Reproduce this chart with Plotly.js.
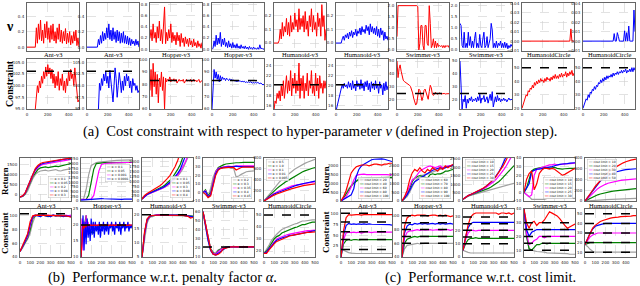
<!DOCTYPE html>
<html><head><meta charset="utf-8">
<script src="https://cdn.plot.ly/plotly-3.0.1.min.js"></script>
<style>html,body{margin:0;padding:0;background:#fff}#c{width:640px;height:286px}</style>
</head><body><div id="c"></div>
<script>
// ---------- x grids ----------
const X10 = [0,10,20,30,40,50,60,70,80,90,100,110,120,130,140,150,160,170,180,190,200,210,220,230,240,250,260,270,280,290,300,310,320,330,340,350,360,370,380,390,400,410,420,430,440,450,460,470,480,490,500];
const X25 = [0,25,50,75,100,125,150,175,200,225,250,275,300,325,350,375,400,425,450,475,500];

// ---------- (a) nu ----------
const nuAntRed = [0,0,0,0,0,0,0,0,0,0.25, 0.05,0.3,0.1,0.35,0.08,0.22,0.05,0.3,0.12,0.33, 0.1,0.25,0.06,0.28,0.1,0.3,0.08,0.2,0.05,0.25, 0.1,0.3,0.07,0.22,0.05,0.2,0.08,0.24,0.04,0.18, 0.06,0.2,0.03,0.15,0.05,0.2,0.08,0.22,0.02,0.12, 0];
const nuAntBlue = [0,0,0,0,0,0,0,0,0,0, 0,0.1,0.03,0.15,0.05,0.2,0.08,0.18,0.1,0.25, 0.12,0.3,0.1,0.22,0.08,0.25,0.1,0.2,0.06,0.22, 0.08,0.2,0.05,0.18,0.06,0.2,0.05,0.15,0.04,0.14, 0.03,0.12,0.02,0.1,0.04,0.08,0.02,0.1,0.03,0.08, 0];
const nuHopRed = [0.2,0.35,0.15,0.45,0.2,0.3,0.12,0.4,0.2,0.5, 0.15,0.35,0.1,0.55,0.75,0.1,0.3,0.15,0.35,0.2, 0.45,0.12,0.3,0.15,0.25,0.08,0.3,0.15,0.25,0.05, 0.28,0.12,0.2,0.05,0.22,0.1,0.18,0.05,0.2,0.08, 0.15,0.04,0.18,0.06,0.12,0.03,0.15,0.05,0.1,0.02, 0.12];
const nuHopBlue = [0,0.02,0.15,0.05,0.25,0.08,0.2,0.1,0.3,0.05, 0.18,0.08,0.2,0.05,0.12,0.03,0.15,0.04,0.1,0.02, 0.12,0.03,0.08,0.02,0.1,0.02,0.06,0.01,0.08,0.02, 0.05,0.01,0.06,0.01,0.04,0,0.05,0.01,0.03,0, 0.04,0.01,0.02,0,0.03,0,0.08,0.01,0.02,0, 0.01];
const nuHumRed = [0,0,0,0,0,0.02,0.1,0.03,0.15,0.05, 0.12,0.08,0.18,0.06,0.15,0.05,0.2,0.08,0.15,0.1, 0.22,0.12,0.17,0.08,0.25,0.1,0.18,0.12,0.2,0.08, 0.23,0.1,0.16,0.05,0.2,0.12,0.25,0.08,0.2,0.1, 0.15,0.05,0.22,0.12,0.18,0.05,0.28,0.12,0.2,0.02, 0.1];
const nuHumBlue = [0,0,0,0,0,0,0.03,0.05,0.02,0.06, 0.04,0.07,0.03,0.08,0.05,0.09,0.04,0.08,0.06,0.1, 0.05,0.09,0.07,0.11,0.06,0.12,0.08,0.1,0.07,0.13, 0.09,0.12,0.06,0.14,0.08,0.12,0.07,0.11,0.06,0.12, 0.05,0.1,0.04,0.11,0.06,0.09,0.02,0.08,0.03,0.05, 0.02];
const nuSwiRed = [0.6,2,2,2,2,2,2,2,2,2, 2,2,2,2,2,2,2,2,2,2, 1.95,0,0.3,1.1,1.1,0.2,0,1.1,1.1,0.3, 0.2,2,1.2,0.1,0.2,0.5,0.1,0.4,0.1,0.3, 0.15,0.2,0.15,0.2,0.1,0.2,0.1,0.2,0.15,0.2, 0.1];
const nuSwiBlue = [1.2,1.1,0.2,0.1,0.8,0.1,0.3,0.1,0.8,0.2, 0.6,0.1,0.4,0.1,0.5,0.8,0.1,0.3,0.1,0.7, 0.2,0.1,0.5,0.8,0.1,0.2,0.6,0.1,0.3,0.5, 1.2,0.9,0.1,0.3,0.1,0.4,0.1,0.3,0.2,0.4, 0.1,0.3,0.1,0.35,0.1,0.3,0.05,0.2,0.1,0.25, 0.15];
const nuCirRed = [0,0,0,0,0,0,0,0,0,0, 0,0,0,0,0,0,0,0,0,0, 0,0,0,0,0,0,0,0,0,0, 0,0,0,0,0,0,0,0,0,0, 0,0,0,0,0,0,0,0.013,0,0, 0];
const nuCirBlue = [0,0,0,0,0,0,0,0,0,0, 0,0,0,0,0,0,0,0,0,0, 0,0,0,0,0,0,0,0,0,0, 0.008,0,0,0.009,0.005,0,0,0,0,0, 0.011,0,0.009,0,0.016,0,0,0,0,0.033, 0.01];

// ---------- (a) constraint ----------
const cAntRed = [null,null,null,null,null,null,null,null,95,98, 100,98.5,101,99.5,102,100.5,103,101.5,104,102, 104.5,102.5,103.8,101.5,103.5,100.5,102.5,99.5,102,100, 103,99,101.5,100,102.5,99,101,98.5,101.5,100, 103,101,103.5,101.5,102.5,100,103.8,101,99,96.5, 97];
const cAntBlue = [null,null,null,null,null,null,null,null,null,null, null,95,100.5,99,101.5,100,102.5,101,103,100.5, 102,99.5,103.3,101,98,96.5,100,103.8,101.5,97.5, 100,102.8,101,98.5,101,99,102,100,102.5,101, 102,99.5,101,98.5,101.5,100,100.5,99,100,98.5, 99];
const cHopRed = [75,92,70,97,78,90,72,88,65,85, 78,90,75,86,60,85,82,84,83,86, 82,84,83,84.5,82.5,84,81,83,84,82.5, 83.5,82.5,84,81,83,84,82.5,83.5,82.5,84, 82,83,84,82.5,83.5,82,83,84,81.5,82.5, 83];
const cHopBlue = [60,80,92,85,90,84,88,82,87,83, 86,84,85,83,85,84,83,84.5,83,84, 83,83.5,82.5,83,82,83,82.5,83,82,82.5, 82,82.5,81.5,82,81.5,82,81.5,82,81.5,81, 81.5,81,81.5,81,81.5,81,80.5,81,80,79.5, 80];
const cHumRed = [15,17,16.5,18.5,17.5,19,17,20,18,21, 17.5,20.5,22,18.5,21,19,23,18,21.5,19.5, 22.5,18.5,21,19,24.5,17.5,21.5,19,22,17.5, 20.5,19,22.5,18,21,19.5,23,18.5,20,18, 22.5,19,21.5,17.5,22,19.5,20.5,18.5,21,19.5, 21];
const cHumBlue = [15,16,17,18,18.5,19.5,20.3,19.5,20.5,19.8, 20.2,19.5,20.8,19.7,20.5,19.2,21,19.5,20.3,19, 21,19.8,20.5,19.3,21.2,19.5,20.5,19,20.8,19.8, 21,19.2,20.5,18.8,20.8,19.5,20.5,19.2,21,19.5, 20.3,18.5,20.8,19.5,20.2,18.2,20.5,19,20.8,19.2, 20];
const cSwiRed = [50,37,44,47,42,38,35,34,33.5,33, 32.5,32,31,30,28,25,21,17,15.5,17, 22,28,27,21,19,22,27,28,25,21, 20,26,31,29,24,23,25,25.5,24.5,24, 24.5,25,24.5,24,24.5,24.8,24.5,24,24.5,24.3, 24.5];
const cSwiBlue = [50,30,12,20,18,23,13,20,17,21, 19,22,18,20,19,21,18,22,19,24, 17,21,20,23,18,20,22,17,21,24, 19,26,14,20,22,18,23,19,21,18, 20,19,21,19,20,18,20,21,19.5,20, 20];
const cCirRed = [20,23,26,27,30,29,33,32,35,34, 37,35,39,37,40,38,41,39,42,40, 41,39,42,40,43,41,42,40,43,41, 44,42,45,42,44,42,45,43,46,43, 45,44,47,43,46,44,47,45,48,44, 46];
const cCirBlue = [20,22,25,27,26,30,28,32,31,34, 33,36,34,37,36,39,38,41,39,42, 40,43,41,44,42,44,43,45,43,46, 44,46,45,47,45,47,46,48,46,48, 47,49,46,48,47,49,47,50,47,50, 48];
const limA = [103.1, 83, 20.2, 24.5, 50];

// ---------- (b) return (gray, green, magenta, blue, red) ----------
const bRetAnt = [
 [-100,-80,20,200,500,800,1000,1120,1180,1200,1220,1180,1200,1230,1250,1200,1180,1220,1250,1280,1300],
 [-100,-70,50,300,600,900,1100,1250,1330,1370,1380,1350,1370,1400,1420,1400,1430,1470,1500,1530,1550],
 [-100,-60,70,330,650,950,1200,1350,1450,1500,1530,1550,1570,1600,1620,1640,1650,1680,1700,1720,1750],
 [-100,-60,80,350,700,1000,1250,1400,1500,1550,1580,1600,1620,1650,1680,1700,1730,1750,1770,1780,1790],
 [-100,-50,100,400,750,1050,1300,1450,1550,1600,1620,1650,1680,1700,1720,1750,1770,1780,1790,1800,1800]];
const bRetHop = [
 [100,100,600,1400,1900,2000,2050,2080,2100,2120,2130,2140,2150,2160,2170,2180,2180,2190,2200,2200,2200],
 [80,80,80,300,1000,1700,2000,2030,2040,2050,2050,2050,2060,2060,2060,2060,2070,2070,2070,2070,2070],
 [80,80,80,80,100,300,900,1600,1950,2000,2020,2030,2040,2050,2050,2050,2050,2060,2060,2060,2060],
 [50,60,80,90,100,110,120,150,130,120,110,100,100,120,110,100,90,100,100,90,100]];
const bRetHum = [
 [100,240,320,370,420,470,520,570,630,700,780,870,980,1110,1260,1430,1630,1870,2150,2450,2800],
 [100,250,340,400,450,510,570,640,720,810,920,1050,1200,1380,1600,1850,2150,2500,2900,3300,3700],
 [100,240,330,380,430,480,530,590,650,720,800,900,1020,1160,1320,1500,1720,1980,2280,2600,3000],
 [100,240,330,390,440,490,540,600,670,750,840,950,1080,1230,1400,1600,1850,2150,2500,2900,3300],
 [100,280,380,450,520,600,680,770,880,1000,1150,1300,1500,1750,2050,2400,2800,3200,3600,4000,4400]];
const bRetSwi = [
 [0,-3,-5,5,18,25,27,28,28.5,29,29,28,28,18,19,21,23,24,24.5,25,25],
 [0,3,-4,0,12,24,29,31,32,33,33.5,34,34,34.5,34.5,35,35,35,35,35,35],
 [0,2,-5,-2,12,24,28,29,29.5,30,30.5,30,30.5,31,31,31,31,31,31,31,31],
 [0,1,-5,-3,10,22,27,28.5,29,29.5,30,30,30,30.5,30,30,30,30,30,30,30],
 [0,-2,-6,-4,8,20,26,28,28.5,29,29,29,29,26,28,29,29.5,29.5,29.5,29.5,29.5]];
const bRetCir = [
 [0,60,130,190,250,300,350,400,440,480,520,560,590,620,650,680,700,720,740,760,775],
 [0,50,100,150,190,230,270,310,340,370,400,430,460,490,510,540,560,580,600,610,620],
 [0,40,80,110,140,170,190,210,230,250,260,280,290,300,310,320,330,340,345,350,355],
 [0,35,70,100,130,150,170,190,210,230,250,265,280,295,310,320,330,340,350,360,370],
 [0,30,60,90,110,130,150,170,185,200,215,230,245,260,270,280,290,300,305,310,320]];
// ---------- (b) constraint ----------
const bConAnt = [
 [48,53,60,66,75,90,100,102,101,101,100,101,100,101,100,101,100,100,101,100,100],
 [48,54,61,68,80,96,100,101,100,101,100,99,100,101,100,100,101,100,100,101,100],
 [48,55,62,70,85,98,101,101,100,102,100,101,100,101,100,100,101,100,101,100,101],
 [48,55,63,72,88,99,101,100,99,101,100,100,99,101,100,101,100,99,100,100,99],
 [48,56,64,74,92,100,101,101,100,101,101,100,101,100,101,100,101,100,100,99,98]];
const bConHop = [
 [10,18,21,20,19,20,19.5,20,19,19.5, 19.5,19.8,19.5,20,19.7,19.9,20,19.8,20,19.9, 20,19.8,20,19.9,20,19.8,20,20,19.9,20, 20,19.8,20,20,19.9,20,20,19.8,20,20, 19.9,20,20,19.8,20,20,19.9,20,20,19.8, 20],
 [10,17,20,19,22,23,21,20,19,18, 17.5,18,17.5,18,19,18.5,19,19.5,19,19.5, 20,19.5,20,19.5,20,19.5,20,20,19.5,20, 20,19.5,20,20,19.5,20,20,19.5,20,20, 19.5,20,20,19.5,20,20,19.5,20,20,19.5, 20],
 [10,22,12,21,16,23,17,21,18,20, 19.5,20,19.8,20.2,19.9,20,19.8,20.1,19.9,20, 20,19.9,20,20.1,19.9,20,20,19.9,20,20, 20,19.9,20,20,20.1,20,19.9,20,20,20, 20,19.9,20,20,20,20.1,20,19.9,20,20, 20],
 [10,15,23,12,21,14,22,16,20,15, 22,17,21,16,21,18,20,17,21,16, 20,18,21,17,20,18,21,17,20,19, 21,18,20,17,21,19,20,18,21,17, 20,19,21,18,20,19,21,18,20,19, 20],
 [10,16,20,19,20,19.5,20,19.8,20,19.9, 20,19.8,20,19.9,20,19.8,20,20,19.9,20, 20,19.8,20,20,19.9,20,20,19.8,20,20, 19.9,20,20,19.8,20,20,19.9,20,20,19.8, 20,20,19.9,20,20,19.8,20,20,19.9,20, 20]];
const bConHum = [
 [5,12,17,19,19.5,19.7,19.8,19.8,19.8,19.8,19.8,19.8,19.8,19.7,19.8,19.8,19.7,19.6,19.5,19,19.3],
 [5,13,18,19.2,19.6,19.8,19.8,19.9,19.8,19.8,19.9,19.8,19.8,19.8,19.9,19.8,19.8,19.7,19.6,19.4,19.5],
 [5,13,18,19.3,19.6,19.8,19.9,19.8,19.8,19.9,19.8,19.8,19.9,19.8,19.8,19.8,19.7,19.7,19.5,19.3,19.2],
 [5,13.5,18.2,19.4,19.7,19.8,19.8,19.9,19.8,19.8,19.8,19.9,19.8,19.8,19.8,19.7,19.8,19.6,19.5,19.2,19.3],
 [5,14,18.5,19.5,19.7,19.8,19.9,19.8,19.9,19.8,19.8,19.8,19.8,19.9,19.8,19.8,19.7,19.6,19.4,18.8,19]];
const bConSwi = [
 [60,44,28,17,13,15,18,19,20,21,21,21,22,21,21,21,21,21,21,21,21],
 [60,45,30,19,15,13,17,19,20,21,21,21,21,21,21,21,21,21,21,21,21],
 [60,45,29,18,14,13,16,18,20,20.5,21,21,21,21,21,21,21,21,21,21,21],
 [60,44,28,17,13,12,14,17,19,20,21,21,21,21,21,21,21,21,21,21,21],
 [60,45,29,18,13,12,13,15,19,20,20.5,21,21,21,21,21,21,21,21,21,21]];
const bConCir = [
 [18,21,25,29,32,34,36,38,39,40,41,42,42.5,43,44,45,45,45.5,46,46,46],
 [18,20,23,27,30,32,33,35,36,37,38,39,39.5,40,41,42,42,43,43.5,44,44],
 [18,19,22,25,28,30,31,32,33,33.5,34,34.5,35,35.5,36,36,36.5,37,37,37,37.5],
 [18,19,22,24,27,29,30,31,31.5,32,33,33,33.5,34,34.5,35,35.5,36,36,36.5,37],
 [18,18,21,24,26,28,29,30,31,32,32.5,33,33.5,34,34.5,35,35,35.5,35.5,36,36]];
const limB = [103, 20, 20, 21, 50];
const legAlphaAnt = ['α = 0.1','α = 0.05','α = 0.2','α = 0.08','α = 0.3'];
const legAlphaHop = ['α = 0.1','α = 0.05','α = 0.001','α = 0.0001'];
const legAlphaHum = ['α = 0.1','α = 0.05','α = 0.3','α = 0.08','α = 0.4'];
const legAlphaSwi = ['α = 0.2','α = 0.3','α = 0.35','α = 0.4','α = 0.45'];
const legAlphaCir = ['α = 0.5','α = 1.0','α = 0.1','α = 0.01','α = 0.005'];

// ---------- (c) return ----------
const cRetAnt = [
 [0,200,450,700,900,1050,1150,1200,1220,1250,1250,1260,1270,1260,1270,1280,1270,1280,1300,1290,1300],
 [0,150,400,650,850,1000,1150,1250,1300,1320,1330,1330,1320,1330,1340,1330,1340,1330,1340,1350,1350],
 [0,100,250,500,800,1200,1450,1500,1520,1530,1500,1510,1530,1500,1500,1510,1520,1500,1500,1490,1500],
 [0,100,200,280,350,700,1400,1800,2000,2100,2200,2300,2350,2380,2400,2420,2400,2380,2350,2300,2250],
 [0,250,600,1100,1600,1800,1950,2000,2050,2050,2050,2000,2050,2100,2100,2080,2050,2100,2100,2150,2150]];
const cRetHop = [
 [0,100,250,500,800,1100,1300,1400,1450,1500,1550,1600,1650,1700,1750,1800,1850,1900,1950,2000,2000],
 [0,150,400,700,1100,1300,1400,1450,1400,1350,1300,1500,1550,1500,1550,1550,1600,1700,1700,1750,1800],
 [0,200,500,900,1200,1300,1500,1700,1800,1900,1950,2000,1950,1900,1950,2000,1900,1950,2000,2000,2050],
 [0,150,350,600,900,1100,1200,1300,1400,1500,1600,1700,1750,1800,1850,1900,1850,1900,1950,2000,2050],
 [0,250,600,1200,1600,1800,1700,1900,1700,1600,1800,1700,1900,1800,1700,1900,1800,2000,1900,2000,2100]];
const cRetHum = [
 [100,200,280,330,370,410,450,490,530,570,610,650,690,730,780,820,860,900,950,1000,1050],
 [100,220,300,360,410,460,510,560,620,680,750,830,920,1020,1140,1280,1440,1600,1780,1950,2100],
 [100,220,310,380,440,500,560,630,710,800,900,1010,1140,1290,1460,1650,1860,2090,2340,2600,2900],
 [100,230,320,390,450,510,580,660,750,860,980,1120,1290,1490,1720,1980,2270,2600,2950,3300,3700],
 [100,230,320,390,460,530,600,680,770,870,990,1120,1280,1460,1670,1900,2160,2450,2750,3050,3400]];
const cRetSwi = [
 [0,-2,-5,-8,-8,-8,-8,-8,-8,-7,-7,-7,-7,-7,-7,-7,-7,-7,-7,-7,-7],
 [0,5,15,25,27,28,28.5,29,29,28.5,28,28.5,29,28,27.5,27,27.5,28,28,28,28],
 [0,-3,-5,-3,20,27,28,29,30,31,32,32,33,32,32.5,33,33,33.5,33.5,34,34],
 [0,5,10,24,26,27,27,27.5,28,28.5,29,30,31,32,32.5,33,33,33.5,34,34,34.5],
 [0,15,22,25,3,10,22,26,28,28,27,28,27,25,22,20,21,23,25,27,28]];
const cRetCir = [
 [0,5,10,12,15,18,20,22,25,27,30,32,34,35,36,38,40,42,44,46,48],
 [0,25,50,75,95,115,130,145,155,165,175,185,190,200,205,210,215,220,225,230,230],
 [0,50,100,150,190,230,260,290,310,330,345,355,365,375,385,390,395,400,405,410,410],
 [0,60,130,200,260,320,370,410,440,470,500,520,540,555,565,575,585,590,595,600,600],
 [0,60,130,200,270,330,390,440,490,530,570,600,630,660,690,710,730,750,760,770,780]];
// ---------- (c) constraint ----------
const cConAnt = [
 [18,15,12,10,9,8,8,8,8,8,8,8,8,8,8,8,8,8,8,8,8],
 [0,30,38,40,38,40,40,39,40,40,40,40,40,40,40,40,40,40,40,40,40],
 [0,40,55,57,56,57,56,57,55,57,58,57,56,57,57,56,57,57,57,57,57],
 [0,50,72,77,75,76,75,76,75,76,75,76,75,75,74,75,74,75,74,74,73],
 [0,60,90,97,96,97,97,97,96,97,97,96,97,97,97,96,97,97,97,97,97]];
const cConHop = [
 [40,52,57,58,59,59,60,59,60,60,60,60,59,60,60,60,60,59,60,60,60],
 [40,60,66,68,69,70,69,70,70,70,71,70,70,70,70,70,70,70,71,70,70],
 [40,68,76,78,78,79,80,79,80,79,80,80,79,80,80,79,80,80,80,79,80],
 [40,75,85,88,87,89,88,89,88,89,88,89,89,88,89,88,89,88,89,89,88],
 [40,85,97,100,101,100,101,101,102,101,100,101,101,101,100,101,100,101,100,99,100]];
const cConHum = [
 [5,4,3.5,3,3,3,3,3,3,3,3,3,3,3,3,3,3,3,3,3,3],
 [5,10,13,14,14,14.5,14,14,14,14.5,14,14,14,14,14.5,14,14,14,14,14,14],
 [5,13,18,20,20,19.5,20,20,19.5,20,20,20,19.5,20,20,20,20,19.5,20,20,20],
 [5,15,22,25,26,26,25.5,26,26,25.5,26,26,25.5,26,26,26,25.5,26,26,26,26],
 [5,16,24,30,32,33,33,32.5,33,33,33,32.5,33,33,32,33,33,32.5,33,32,33]];
const cConSwi = [
 [40,20,11,10,9.5,9,9,8.5,8.5,8,8,8,8,8,8,7.5,7.5,7.5,7,7,7],
 [40,20,11,10,12,14,14,15,15,14.5,15,15,15,15,15,15,15,15,15,15,15],
 [40,22,14,15,17,18,20,20,19,20,20,20,20,20,20,20,20,20,20,20,20],
 [40,25,20,23,24,25,25,25,25,25,25,25,25,25,25,25,25,25,25,25,25],
 [40,30,26,30,31,28,30,30,32,35,38,37,36,35,33,30,28,26,27,28,29]];
const cConCir = [
 [18,16,13,11,10,10,10,10,10,10,10,10,10,10,10,10,10,10,10,10,10],
 [18,19,20,20,20,20,20,20,20,20,20,20,20,20,20,20,20,20,20,20,20],
 [18,22,26,28,29,30,30,30,30,30,30,30,30,30,30,30,30,30,30,30,30],
 [18,24,30,34,37,38,39,39.5,40,40,40,40,40,40,40,40,40,40,40,40,40],
 [18,24,30,35,38,40,42,43,44,45,45.5,46,46,46.5,47,47,47,47.5,47.5,48,48]];
const limCAnt = [100, 80, 58, 40, 17];
const limCHop = [100, 90, 80, 70, 60];
const limCHum = [30, 25, 20, 15, 10];
const limCSwi = [30, 25, 20, 15, 10];
const limCCir = [50, 40, 30, 20, 10];
const legCAnt = ['cost limit = 20','cost limit = 40','cost limit = 60','cost limit = 80','cost limit = 100'];
const legCHop = ['cost limit = 60','cost limit = 70','cost limit = 80','cost limit = 90','cost limit = 100'];
const legCHum = ['cost limit = 10','cost limit = 15','cost limit = 20','cost limit = 25','cost limit = 30'];
const legCSwi = ['cost limit = 10','cost limit = 15','cost limit = 20','cost limit = 25','cost limit = 30'];
const legCCir = ['cost limit = 10','cost limit = 20','cost limit = 30','cost limit = 40','cost limit = 50'];

const envNames = ['Ant-v3','Hopper-v3','Humanoid-v3','Swimmer-v3','HumanoidCircle'];

// ---------- styling / layout ----------
const RED='#ff0000', BLUE='#0000ff';
const C5 = ['#a0a0a0','#008000','#ff00ff','#0000ff','#ff0000'];
const W=640, H=286;
const panels = [];
// (a)
const aLeft = [27,87,150,212,274,336,397,460,522,583];
const nuSeries = [nuAntRed,nuAntBlue,nuHopRed,nuHopBlue,nuHumRed,nuHumBlue,nuSwiRed,nuSwiBlue,nuCirRed,nuCirBlue];
const cSeries = [cAntRed,cAntBlue,cHopRed,cHopBlue,cHumRed,cHumBlue,cSwiRed,cSwiBlue,cCirRed,cCirBlue];
const nuR = [[-0.05,0.57,0.2,'.1f'],[-0.03,0.82,0.2,'.1f'],[-0.058,0.292,0.1,'.1f'],[-0.05,2.12,0.5,'.1f'],[-0.0105,0.0405,0.01,'.2f']];
const cR = [[95,105.7,2.5,'.1f'],[60,100.5,10,''],[15.4,25.3,2,''],[12.4,51.6,10,''],[19.5,56.4,10,'']];
for (let i=0;i<10;i++){
  const e = Math.floor(i/2), col = i%2===0?RED:BLUE;
  panels.push({l:aLeft[i], w:52, t:3, b:51, yr:nuR[e], xd:200, xl:false,
    lines:[{x:X10,y:nuSeries[i],c:col,w:1}], lims:[], title:envNames[e]});
  panels.push({l:aLeft[i], w:52, t:59, b:109, yr:cR[e], xd:200, xl:true,
    lines:[{x:X10,y:cSeries[i],c:col,w:1}], lims:[limA[e]]});
}
// (b)
const bLeft = [20,81,142,203,264];
const bRet = [bRetAnt,bRetHop,bRetHum,bRetSwi,bRetCir];
const bCon = [bConAnt,bConHop,bConHum,bConSwi,bConCir];
const bRR = [[-300,1820,500,''],[0,2300,250,''],[0,2180,250,''],[-10,40,10,''],[0,800,200,'']];
const bCR = [[40,110,20,''],[10,25,5,''],[5,22,5,''],[9.9,63,10,''],[15,55,10,'']];
const bLeg = [legAlphaAnt,legAlphaHop,legAlphaHum,legAlphaSwi,legAlphaCir];
const bLegPos = [[0.97,0.08,'right','bottom'],[0.97,0.45,'right','bottom'],[0.97,0.08,'right','bottom'],[0.97,0.05,'right','bottom'],[0.03,0.97,'left','top']];
for (let i=0;i<5;i++){
  const rx = bRet[i].length===4 ? C5.slice(0,4) : C5;
  panels.push({l:bLeft[i], w:51, t:158, b:201, yr:bRR[i], xd:100, xl:false,
    lines:bRet[i].map((y,k)=>({x:X25,y:y,c:rx[k],w:1.2})), lims:[], title:envNames[i],
    legend:{labels:bLeg[i], colors:rx, pos:bLegPos[i]}});
  const xx = i===1 ? X10 : X25;
  panels.push({l:bLeft[i], w:51, t:209, b:257, yr:bCR[i], xd:100, xl:true,
    lines:bCon[i].map((y,k)=>({x:xx,y:y,c:C5[k],w:1.2})), lims:[limB[i]]});
}
// (c)
const cLeft = [341,402,463,524,585];
const cRet = [cRetAnt,cRetHop,cRetHum,cRetSwi,cRetCir];
const cCon = [cConAnt,cConHop,cConHum,cConSwi,cConCir];
const cRR = [[0,2450,500,''],[0,2450,500,''],[0,2550,500,''],[-10,40,10,''],[0,800,200,'']];
const cCR = [[0,110,25,''],[40,110,20,''],[0,36,10,''],[5,40,10,''],[5,55,10,'']];
const cLims = [limCAnt,limCHop,limCHum,limCSwi,limCCir];
const cLeg = [legCAnt,legCHop,legCHum,legCSwi,legCCir];
const cLegPos = [[0.97,0.05,'right','bottom'],[0.97,0.05,'right','bottom'],[0.03,0.97,'left','top'],[0.97,0.05,'right','bottom'],[0.03,0.97,'left','top']];
for (let i=0;i<5;i++){
  panels.push({l:cLeft[i], w:51, t:158, b:201, yr:cRR[i], xd:100, xl:false,
    lines:cRet[i].map((y,k)=>({x:X25,y:y,c:C5[k],w:1.2})), lims:[], title:envNames[i],
    legend:{labels:cLeg[i], colors:C5, pos:cLegPos[i]}});
  panels.push({l:cLeft[i], w:51, t:209, b:257, yr:cCR[i], xd:100, xl:true,
    lines:cCon[i].map((y,k)=>({x:X25,y:y,c:C5[k],w:1.2})), lims:cLims[i]});
}

const data=[], shapes=[], ann=[];
const layout = {width:W, height:H, margin:{l:0,r:0,t:0,b:0}, showlegend:false,
  paper_bgcolor:'#fff', plot_bgcolor:'#fff', font:{family:'DejaVu Sans', size:4, color:'#222'}};
const SERIF = 'Liberation Serif';
panels.forEach((p,i)=>{
  const n=i+1, xs=n===1?'':n;
  const xa='xaxis'+xs, ya='yaxis'+xs, xr='x'+xs, yr='y'+xs;
  layout[xa] = {domain:[p.l/W,(p.l+p.w)/W], range:[0,500], anchor:yr, showline:true, mirror:true,
    linecolor:'#666', linewidth:1, ticks:'', showgrid:true, gridcolor:'#cfcfcf', griddash:'dash', gridwidth:0.6,
    dtick:p.xd, tick0:0, showticklabels:p.xl, zeroline:false, tickfont:{size:4, color:'#222'}, ticklabelstandoff:1};
  layout[ya] = {domain:[1-p.b/H,1-p.t/H], range:[p.yr[0],p.yr[1]], anchor:xr, showline:true, mirror:true,
    linecolor:'#666', linewidth:1, ticks:'', showgrid:true, gridcolor:'#cfcfcf', griddash:'dash', gridwidth:0.6,
    dtick:p.yr[2], tick0:0, tickformat:p.yr[3], zeroline:false, tickfont:{size:4, color:'#222'}, ticklabelstandoff:1};
  p.lines.forEach(s=>data.push({type:'scatter', mode:'lines', x:s.x, y:s.y, xaxis:xr, yaxis:yr,
    line:{color:s.c, width:s.w}, hoverinfo:'skip'}));
  p.lims.forEach(v=>shapes.push({type:'line', xref:xr+' domain', x0:0, x1:1, yref:yr, y0:v, y1:v,
    line:{color:'#000', width:1.5, dash:'dash'}}));
  if (p.title) ann.push({xref:xr+' domain', x:0.5, yref:'paper', y:1-(p.b+4)/H, yanchor:'middle',
    text:p.title, showarrow:false, font:{family:SERIF, size:6.5, color:'#000'}});
  if (p.legend){
    const txt = p.legend.labels.map((t,k)=>'<span style="color:'+p.legend.colors[k]+'">━━</span> '+t).join('<br>');
    ann.push({xref:xr+' domain', yref:yr+' domain', x:p.legend.pos[0], y:p.legend.pos[1],
      xanchor:p.legend.pos[2], yanchor:p.legend.pos[3], text:txt, showarrow:false, align:'left',
      font:{family:'DejaVu Sans', size:3, color:'#000'}, bgcolor:'rgba(255,255,255,0.9)',
      bordercolor:'#bbb', borderwidth:0.5, borderpad:0.5});
  }
});
// axis labels and captions
const lab = (x,y,t,s,rot)=>ann.push({xref:'paper', yref:'paper', x:x/W, y:1-y/H, text:t, showarrow:false,
  textangle:rot||0, font:{family:SERIF, size:s, color:'#000'}, xanchor:'center', yanchor:'middle'});
lab(10,27,'<b>ν</b>',14);
lab(9,84,'<b>Constraint</b>',10,-90);
lab(5,181,'<b>Return</b>',9,-90);
lab(5,233,'<b>Constraint</b>',9,-90);
lab(326,180,'<b>Return</b>',9,-90);
lab(326,232,'<b>Constraint</b>',9,-90);
lab(320,131,'(a)  Cost constraint with respect to hyper-parameter <i>ν</i> (defined in Projection step).',14.5);
lab(162,277,'(b)  Performance w.r.t. penalty factor <i>α</i>.',14.5);
lab(480,277,'(c)  Performance w.r.t. cost limit.',14.5);
layout.shapes = shapes; layout.annotations = ann;
Plotly.newPlot('c', data, layout, {staticPlot:true, displayModeBar:false});
</script></body></html>
